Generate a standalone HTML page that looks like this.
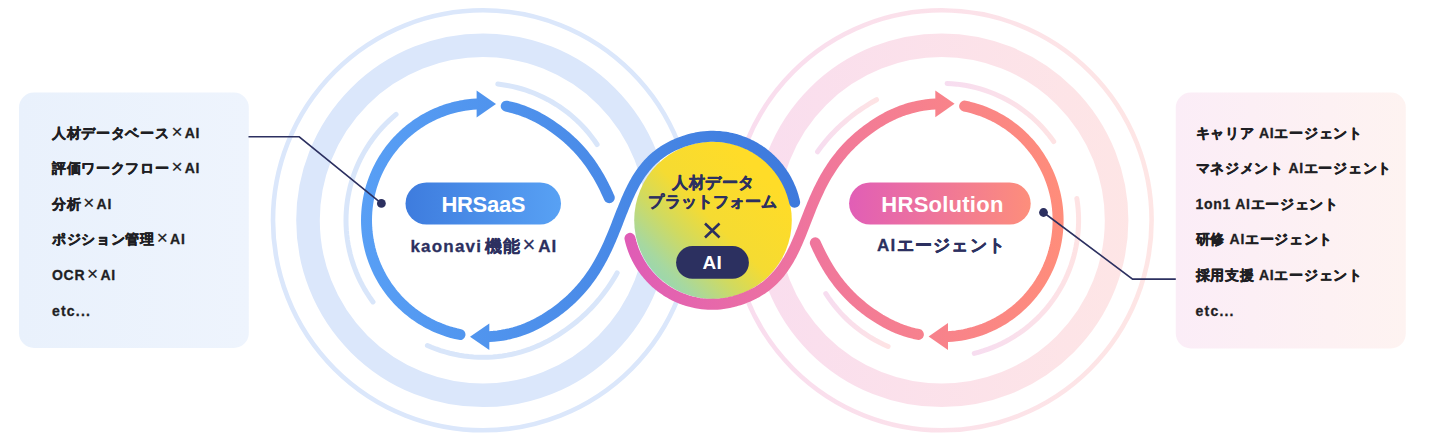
<!DOCTYPE html>
<html><head><meta charset="utf-8"><style>
html,body{margin:0;padding:0;background:#fff;}
body{width:1436px;height:446px;overflow:hidden;}
svg{display:block;font-family:"Liberation Sans",sans-serif;}
</style></head><body>
<svg width="1436" height="446" viewBox="0 0 1436 446">
<defs>
<linearGradient id="gBlue" gradientUnits="userSpaceOnUse" x1="360" y1="0" x2="800" y2="0">
 <stop offset="0" stop-color="#589ff5"/><stop offset="1" stop-color="#3d79dc"/></linearGradient>
<linearGradient id="gPink" gradientUnits="userSpaceOnUse" x1="625" y1="0" x2="1065" y2="0">
 <stop offset="0" stop-color="#df5cb6"/><stop offset="0.5" stop-color="#f27a98"/><stop offset="1" stop-color="#ff8d7a"/></linearGradient>
<linearGradient id="gPillB" x1="0" y1="0" x2="1" y2="0">
 <stop offset="0" stop-color="#3e7cde"/><stop offset="1" stop-color="#58a1f4"/></linearGradient>
<linearGradient id="gPillP" x1="0" y1="0" x2="1" y2="0">
 <stop offset="0" stop-color="#e15eb6"/><stop offset="1" stop-color="#fd8e7b"/></linearGradient>
<linearGradient id="gRingP" gradientUnits="userSpaceOnUse" x1="730" y1="0" x2="1155" y2="0">
 <stop offset="0" stop-color="#f9ddef"/><stop offset="1" stop-color="#fee6e5"/></linearGradient>
<linearGradient id="gLightP" x1="0" y1="0" x2="1" y2="0">
 <stop offset="0" stop-color="#f7ddf0"/><stop offset="1" stop-color="#fee3e4"/></linearGradient>
<linearGradient id="gYel" x1="0.05" y1="0.95" x2="0.8" y2="0.2">
 <stop offset="0" stop-color="#8cd3c4"/><stop offset="0.2" stop-color="#a6d8a0"/><stop offset="0.4" stop-color="#d0da60"/><stop offset="0.6" stop-color="#f5db32"/><stop offset="1" stop-color="#ffdc28"/></linearGradient>
<linearGradient id="gBoxL" x1="0" y1="0" x2="1" y2="0">
 <stop offset="0" stop-color="#e9f1fc"/><stop offset="1" stop-color="#eef4fd"/></linearGradient>
<linearGradient id="gBoxR" x1="0" y1="0" x2="1" y2="0">
 <stop offset="0" stop-color="#fbedf7"/><stop offset="1" stop-color="#fef3f1"/></linearGradient>
</defs>
<rect x="19" y="92.6" width="229.8" height="255.4" rx="15" fill="url(#gBoxL)"/>
<rect x="1175.8" y="92.6" width="230" height="255.9" rx="15" fill="url(#gBoxR)"/>
<circle cx="483.00" cy="220.30" r="210" fill="none" stroke="#dbe7fb" stroke-width="4.6"/>
<circle cx="483.00" cy="220.30" r="175" fill="none" stroke="#dbe7fb" stroke-width="23.6"/>
<circle cx="941.60" cy="220.30" r="210" fill="none" stroke="url(#gRingP)" stroke-width="4.6"/>
<circle cx="941.60" cy="220.30" r="175" fill="none" stroke="url(#gRingP)" stroke-width="23.6"/>
<path d="M497.80 84.10 L502.56 84.70 L507.30 85.47 L512.01 86.41 L516.68 87.50 L521.31 88.77 L525.90 90.19 L530.43 91.77 L534.91 93.51 L539.32 95.41 L543.66 97.46 L547.92 99.66 L552.11 102.01 L556.21 104.50 L560.23 107.14 L564.14 109.92 L567.96 112.83 L571.68 115.87 L575.28 119.04 L578.77 122.34 L582.15 125.75 L585.40 129.28 L588.52 132.93 L591.52 136.68 L594.38 140.53 L597.11 144.49" fill="none" stroke="#d9e6fa" stroke-width="5" stroke-linecap="round"/>
<path d="M373.01 301.98 L370.19 298.04 L367.51 294.00 L364.98 289.87 L362.59 285.65 L360.35 281.34 L358.27 276.97 L356.34 272.52 L354.57 268.00 L352.97 263.43 L351.52 258.80 L350.24 254.12 L349.13 249.40 L348.18 244.65 L347.40 239.86 L346.80 235.05 L346.36 230.22 L346.09 225.38 L346.00 220.53 L346.08 215.69 L346.33 210.84 L346.75 206.01 L347.34 201.20 L348.10 196.41 L349.03 191.65 L350.13 186.93 L351.39 182.25 L352.82 177.62 L354.41 173.04 L356.16 168.52 L358.08 164.06 L360.14 159.67 L362.37 155.36 L364.74 151.14 L367.26 147.00 L369.93 142.95 L372.74 138.99 L375.68 135.14 L378.76 131.40 L381.97 127.76 L385.31 124.25 L388.77 120.85 L392.35 117.58 L396.04 114.44" fill="none" stroke="#d9e6fa" stroke-width="5" stroke-linecap="round"/>
<path d="M427.39 345.50 L431.50 347.25 L436.00 348.98 L440.56 350.56 L445.17 351.97 L449.83 353.22 L454.53 354.31 L459.26 355.23 L464.03 355.98 L468.81 356.56 L473.62 356.98 L478.44 357.22 L483.26 357.30 L488.08 357.21 L492.90 356.94 L497.70 356.51 L502.49 355.91 L507.25 355.14 L511.98 354.20 L516.68 353.10 L521.33 351.83 L525.94 350.40 L530.49 348.80 L534.99 347.05 L539.42 345.14 L543.78 343.08 L548.06 340.87 L552.14 338.58 L554.96 336.89 L557.60 335.26 L560.19 333.61 L562.72 331.93 L565.20 330.23 L567.62 328.52 L569.99 326.78 L572.30 325.02 L574.57 323.25 L576.78 321.45 L578.94 319.64 L581.05 317.81 L583.11 315.96 L585.12 314.10 L587.08 312.23 L588.99 310.34 L590.86 308.43 L592.68 306.52 L594.45 304.59 L596.18 302.65 L597.86 300.71 L599.50 298.75 L601.10 296.78 L602.65 294.81 L604.17 292.83 L605.64 290.84 L607.07 288.85 L608.46 286.86 L609.82 284.86 L611.13 282.86 L612.42 280.86 L613.66 278.86 L614.88 276.86 L616.06 274.86 L617.20 272.86" fill="none" stroke="#d9e6fa" stroke-width="5" stroke-linecap="round"/>
<path d="M947.10 83.41 L951.93 83.69 L956.74 84.14 L961.54 84.76 L966.31 85.55 L971.05 86.50 L975.76 87.63 L980.42 88.92 L985.04 90.37 L989.60 91.98 L994.10 93.76 L998.53 95.69 L1002.89 97.78 L1007.18 100.02 L1011.39 102.41 L1015.50 104.94 L1019.53 107.62 L1023.46 110.45 L1027.29 113.40 L1031.01 116.50 L1034.62 119.72 L1038.11 123.06 L1041.48 126.53 L1044.73 130.11 L1047.85 133.81 L1050.84 137.62 L1053.69 141.52" fill="none" stroke="url(#gLightP)" stroke-width="5" stroke-linecap="round"/>
<path d="M1076.84 198.40 L1077.53 203.21 L1078.05 208.04 L1078.40 212.89 L1078.58 217.75 L1078.58 222.61 L1078.41 227.47 L1078.07 232.32 L1077.56 237.15 L1076.88 241.97 L1076.02 246.75 L1075.00 251.51 L1073.81 256.22 L1072.45 260.89 L1070.93 265.51 L1069.24 270.07 L1067.40 274.56 L1065.39 278.99 L1063.23 283.35 L1060.92 287.62 L1058.45 291.81 L1055.84 295.92 L1053.09 299.92 L1050.19 303.83 L1047.16 307.63 L1044.00 311.32 L1040.70 314.89 L1037.28 318.35 L1033.74 321.68 L1030.09 324.89 L1026.32 327.96 L1022.45 330.90 L1018.47 333.70 L1014.40 336.36 L1010.24 338.87 L1005.99 341.23 L1001.66 343.43 L997.25 345.49 L992.77 347.38 L988.23 349.12 L983.63 350.69 L978.98 352.10 L974.28 353.35" fill="none" stroke="url(#gLightP)" stroke-width="5" stroke-linecap="round"/>
<path d="M888.07 346.41 L883.61 344.42 L879.23 342.28 L874.92 339.98 L870.70 337.53 L866.57 334.93 L862.54 332.18 L858.60 329.30 L854.77 326.27 L851.05 323.11 L847.45 319.82 L843.96 316.40 L840.60 312.87 L837.37 309.21 L834.27 305.44 L831.30 301.56 L828.48 297.58 L825.80 293.51" fill="none" stroke="url(#gLightP)" stroke-width="5" stroke-linecap="round"/>
<path d="M876.54 99.73 L872.46 102.02 L869.64 103.71 L867.00 105.34 L864.41 106.99 L861.88 108.67 L859.40 110.37 L856.98 112.08 L854.61 113.82 L852.30 115.58 L850.03 117.35 L847.82 119.15 L845.66 120.96 L843.55 122.79 L841.49 124.64 L839.48 126.50 L837.52 128.37 L835.61 130.26 L833.74 132.17 L831.92 134.08 L830.15 136.01 L828.42 137.95 L826.74 139.89 L825.10 141.85 L823.50 143.82 L821.95 145.79 L820.43 147.77 L818.96 149.76 L817.53 151.75" fill="none" stroke="url(#gLightP)" stroke-width="5" stroke-linecap="round"/>
<circle cx="713" cy="220.30" r="78.8" fill="url(#gYel)"/>
<path d="M489.29 336.63 L493.55 336.32 L497.79 335.86 L502.01 335.24 L506.20 334.47 L510.37 333.54 L514.49 332.46 L518.58 331.23 L522.62 329.86 L526.60 328.33 L530.53 326.66 L534.39 324.85 L538.18 322.90 L541.90 320.81 L544.33 319.37 L546.69 317.90 L549.01 316.42 L551.27 314.93 L553.47 313.42 L555.63 311.89 L557.73 310.35 L559.78 308.79 L561.78 307.22 L563.73 305.64 L565.64 304.04 L567.49 302.43 L569.31 300.81 L571.07 299.17 L572.79 297.53 L574.47 295.87 L576.11 294.20 L577.70 292.52 L579.26 290.83 L580.77 289.13 L582.25 287.42 L583.69 285.70 L585.09 283.98 L586.46 282.24 L587.79 280.50 L589.08 278.75 L590.35 277.00 L591.58 275.24 L592.78 273.47 L593.94 271.69 L595.08 269.91 L596.20 268.13 L597.28 266.34 L598.34 264.55 L599.37 262.75 L600.37 260.95 L601.35 259.15 L602.31 257.35 L603.25 255.54 L604.17 253.73 L605.06 251.92 L605.94 250.11 L606.79 248.30 L607.63 246.49 L608.46 244.68 L609.26 242.87 L610.06 241.06 L610.83 239.25 L611.60 237.45 L612.35 235.65 L613.10 233.85 L613.83 232.05 L614.55 230.26 L615.27 228.47 L615.97 226.68 L616.67 224.90 L617.37 223.13 L618.06 221.36 L618.75 219.59 L619.43 217.84 L620.11 216.09 L620.79 214.35 L621.47 212.61 L622.16 210.88 L622.84 209.16 L623.52 207.45 L624.21 205.75 L624.91 204.06 L625.61 202.38 L626.31 200.71 L627.03 199.05 L627.75 197.40 L628.48 195.77 L629.22 194.14 L629.97 192.53 L630.73 190.93 L631.51 189.34 L632.30 187.77 L633.10 186.21 L633.92 184.67 L634.76 183.14 L635.62 181.63 L636.49 180.13 L637.38 178.65 L638.29 177.18 L639.22 175.73 L640.18 174.30 L641.15 172.89 L642.16 171.49 L643.18 170.11 L644.23 168.76 L645.31 167.42 L646.42 166.10 L647.55 164.80 L648.72 163.52 L649.91 162.26 L651.13 161.02 L652.39 159.81 L653.68 158.62 L655.00 157.45 L656.36 156.30 L657.76 155.18 L659.19 154.08 L660.66 153.00 L662.17 151.95 L663.71 150.92 L665.30 149.92 L666.93 148.94 L668.60 147.99 L670.31 147.07 L672.07 146.18 L673.87 145.31 L675.72 144.47 L677.62 143.65 L679.56 142.87 L681.55 142.11 L683.59 141.39 L685.69 140.69 L687.83 140.03 L690.02 139.39 L692.90 138.64 L695.80 138.00 L698.72 137.46 L701.66 137.02 L704.61 136.68 L707.57 136.45 L710.53 136.33 L713.50 136.30 L716.47 136.39 L719.44 136.58 L722.39 136.87 L725.34 137.27 L728.26 137.77 L731.17 138.38 L734.05 139.09 L736.91 139.90 L739.74 140.81 L742.53 141.81 L745.29 142.92 L748.00 144.13 L750.67 145.42 L753.30 146.82 L755.87 148.30 L758.39 149.88 L760.85 151.54 L763.25 153.29 L765.59 155.12 L767.86 157.03 L770.06 159.03 L772.19 161.10 L774.25 163.24 L776.22 165.45 L778.12 167.74 L779.94 170.09 L781.67 172.50 L783.32 174.97 L784.88 177.50 L786.35 180.08 L787.72 182.71 L789.00 185.39 L790.19 188.11 L791.28 190.88 L792.27 193.68 L793.16 196.51 L793.95 199.37 L794.64 202.26" fill="none" stroke="url(#gBlue)" stroke-width="11.0" stroke-linecap="round" stroke-linejoin="round"/>
<path d="M459.97 334.50 L455.97 333.62 L451.99 332.60 L448.06 331.44 L444.17 330.14 L440.32 328.70 L436.53 327.13 L432.80 325.43 L429.13 323.60 L425.53 321.64 L422.00 319.55 L418.54 317.34 L415.16 315.01 L411.87 312.56 L408.67 310.00 L405.55 307.33 L402.54 304.55 L399.62 301.66 L396.81 298.68 L394.10 295.60 L391.51 292.42 L389.02 289.15 L386.66 285.80 L384.41 282.37 L382.29 278.86 L380.29 275.28 L378.42 271.63 L376.67 267.91 L375.06 264.14 L373.59 260.31 L372.25 256.44 L371.04 252.51 L369.98 248.55 L369.05 244.56 L368.27 240.53 L367.63 236.48 L367.13 232.40 L366.78 228.32 L366.57 224.22 L366.50 220.12 L366.58 216.02 L366.80 211.92 L367.17 207.84 L367.68 203.76 L368.33 199.71 L369.13 195.69 L370.07 191.70 L371.14 187.74 L372.36 183.82 L373.71 179.95 L375.20 176.12 L376.82 172.36 L378.58 168.65 L380.46 165.00 L382.47 161.43 L384.61 157.92 L386.86 154.50 L389.24 151.16 L391.73 147.90 L394.34 144.73 L397.05 141.65 L399.87 138.68 L402.80 135.80 L405.82 133.03 L408.95 130.37 L412.16 127.81 L415.46 125.38 L418.84 123.06 L422.30 120.86 L425.84 118.78 L429.45 116.84 L433.13 115.01 L436.87 113.32 L440.66 111.77 L444.51 110.34 L448.40 109.06 L452.34 107.91 L456.32 106.90 L460.33 106.03 L464.37 105.30 L468.43 104.72 L472.50 104.27 L476.60 103.98" fill="none" stroke="url(#gBlue)" stroke-width="11.0" stroke-linecap="round" stroke-linejoin="round"/>
<path d="M506.23 106.14 L510.39 107.06 L514.51 108.14 L518.59 109.37 L522.63 110.75 L526.61 112.27 L530.53 113.94 L534.39 115.75 L538.18 117.70 L541.90 119.79 L544.33 121.23 L546.69 122.70 L549.01 124.18 L551.27 125.67 L553.47 127.18 L555.63 128.71 L557.73 130.25 L559.78 131.81 L561.78 133.38 L563.73 134.96 L565.64 136.56 L567.49 138.17 L569.31 139.79 L571.07 141.43 L572.79 143.07 L574.47 144.73 L576.11 146.40 L577.70 148.08 L579.26 149.77 L580.77 151.47 L582.25 153.18 L583.69 154.90 L585.09 156.62 L586.46 158.36 L587.79 160.10 L589.08 161.85 L590.35 163.60 L591.58 165.36 L592.78 167.13 L593.94 168.91 L595.08 170.69 L596.20 172.47 L597.28 174.26 L598.34 176.05 L599.37 177.85 L600.37 179.65 L601.35 181.45 L602.31 183.25 L603.25 185.06 L604.17 186.87 L605.06 188.68 L605.94 190.49 L606.79 192.30 L607.63 194.11 L608.46 195.92 L609.26 197.73" fill="none" stroke="url(#gBlue)" stroke-width="11.0" stroke-linecap="round" stroke-linejoin="round"/>
<path d="M476.60 90.60 L496.00 104.00 L476.60 117.50 Z" fill="url(#gBlue)"/>
<path d="M489.30 323.40 L470.00 336.75 L489.30 350.10 Z" fill="url(#gBlue)"/>
<path d="M935.31 103.97 L931.05 104.28 L926.81 104.74 L922.59 105.36 L918.40 106.13 L914.23 107.06 L910.11 108.14 L906.02 109.37 L901.98 110.74 L898.00 112.27 L894.07 113.94 L890.21 115.75 L886.42 117.70 L882.70 119.79 L880.27 121.23 L877.91 122.70 L875.59 124.18 L873.33 125.67 L871.13 127.18 L868.97 128.71 L866.87 130.25 L864.82 131.81 L862.82 133.38 L860.87 134.96 L858.96 136.56 L857.11 138.17 L855.29 139.79 L853.53 141.43 L851.81 143.07 L850.13 144.73 L848.49 146.40 L846.90 148.08 L845.34 149.77 L843.83 151.47 L842.35 153.18 L840.91 154.90 L839.51 156.62 L838.14 158.36 L836.81 160.10 L835.52 161.85 L834.25 163.60 L833.02 165.36 L831.82 167.13 L830.66 168.91 L829.52 170.69 L828.40 172.47 L827.32 174.26 L826.26 176.05 L825.23 177.85 L824.23 179.65 L823.25 181.45 L822.29 183.25 L821.35 185.06 L820.43 186.87 L819.54 188.68 L818.66 190.49 L817.81 192.30 L816.97 194.11 L816.14 195.92 L815.34 197.73 L814.54 199.54 L813.77 201.35 L813.00 203.15 L812.25 204.95 L811.50 206.75 L810.77 208.55 L810.05 210.34 L809.33 212.13 L808.63 213.92 L807.93 215.70 L807.23 217.47 L806.54 219.24 L805.85 221.01 L805.17 222.76 L804.49 224.51 L803.81 226.25 L803.13 227.99 L802.44 229.72 L801.76 231.44 L801.08 233.15 L800.39 234.85 L799.69 236.54 L798.99 238.22 L798.29 239.89 L797.57 241.55 L796.85 243.20 L796.12 244.83 L795.38 246.46 L794.63 248.07 L793.87 249.67 L793.09 251.26 L792.30 252.83 L791.50 254.39 L790.68 255.93 L789.84 257.46 L788.98 258.97 L788.11 260.47 L787.22 261.95 L786.31 263.42 L785.38 264.87 L784.42 266.30 L783.45 267.71 L782.44 269.11 L781.42 270.49 L780.37 271.84 L779.29 273.18 L778.18 274.50 L777.05 275.80 L775.88 277.08 L774.69 278.34 L773.47 279.58 L772.21 280.79 L770.92 281.98 L769.60 283.15 L768.24 284.30 L766.84 285.42 L765.41 286.52 L763.94 287.60 L762.43 288.65 L760.89 289.68 L759.30 290.68 L757.67 291.66 L756.00 292.61 L754.29 293.53 L752.53 294.42 L750.73 295.29 L748.88 296.13 L746.98 296.95 L745.04 297.73 L743.05 298.49 L741.01 299.21 L738.91 299.91 L736.77 300.57 L734.58 301.21 L731.70 301.96 L728.80 302.60 L725.88 303.14 L722.94 303.58 L719.99 303.92 L717.03 304.15 L714.07 304.27 L711.10 304.30 L708.13 304.21 L705.16 304.02 L702.21 303.73 L699.26 303.33 L696.34 302.83 L693.43 302.22 L690.55 301.51 L687.69 300.70 L684.86 299.79 L682.07 298.79 L679.31 297.68 L676.60 296.47 L673.93 295.18 L671.30 293.78 L668.73 292.30 L666.21 290.72 L663.75 289.06 L661.35 287.31 L659.01 285.48 L656.74 283.57 L654.54 281.57 L652.41 279.50 L650.35 277.36 L648.38 275.15 L646.48 272.86 L644.66 270.51 L642.93 268.10 L641.28 265.63 L639.72 263.10 L638.25 260.52 L636.88 257.89 L635.60 255.21 L634.41 252.49 L633.32 249.72 L632.33 246.92 L631.44 244.09 L630.65 241.23 L629.96 238.34" fill="none" stroke="url(#gPink)" stroke-width="11.0" stroke-linecap="round" stroke-linejoin="round"/>
<path d="M964.63 106.10 L968.63 106.98 L972.61 108.00 L976.54 109.16 L980.43 110.46 L984.28 111.90 L988.07 113.47 L991.80 115.17 L995.47 117.00 L999.07 118.96 L1002.60 121.05 L1006.06 123.26 L1009.44 125.59 L1012.73 128.04 L1015.93 130.60 L1019.05 133.27 L1022.06 136.05 L1024.98 138.94 L1027.79 141.92 L1030.50 145.00 L1033.09 148.18 L1035.58 151.45 L1037.94 154.80 L1040.19 158.23 L1042.31 161.74 L1044.31 165.32 L1046.18 168.97 L1047.93 172.69 L1049.54 176.46 L1051.01 180.29 L1052.35 184.16 L1053.56 188.09 L1054.62 192.05 L1055.55 196.04 L1056.33 200.07 L1056.97 204.12 L1057.47 208.20 L1057.82 212.28 L1058.03 216.38 L1058.10 220.48 L1058.02 224.58 L1057.80 228.68 L1057.43 232.76 L1056.92 236.84 L1056.27 240.89 L1055.47 244.91 L1054.53 248.90 L1053.46 252.86 L1052.24 256.78 L1050.89 260.65 L1049.40 264.48 L1047.78 268.24 L1046.02 271.95 L1044.14 275.60 L1042.13 279.17 L1039.99 282.68 L1037.74 286.10 L1035.36 289.44 L1032.87 292.70 L1030.26 295.87 L1027.55 298.95 L1024.73 301.92 L1021.80 304.80 L1018.78 307.57 L1015.65 310.23 L1012.44 312.79 L1009.14 315.22 L1005.76 317.54 L1002.30 319.74 L998.76 321.82 L995.15 323.76 L991.47 325.59 L987.73 327.28 L983.94 328.83 L980.09 330.26 L976.20 331.54 L972.26 332.69 L968.28 333.70 L964.27 334.57 L960.23 335.30 L956.17 335.88 L952.10 336.33 L948.00 336.62" fill="none" stroke="url(#gPink)" stroke-width="11.0" stroke-linecap="round" stroke-linejoin="round"/>
<path d="M918.37 334.46 L914.21 333.54 L910.09 332.46 L906.01 331.23 L901.97 329.85 L897.99 328.33 L894.07 326.66 L890.21 324.85 L886.42 322.90 L882.70 320.81 L880.27 319.37 L877.91 317.90 L875.59 316.42 L873.33 314.93 L871.13 313.42 L868.97 311.89 L866.87 310.35 L864.82 308.79 L862.82 307.22 L860.87 305.64 L858.96 304.04 L857.11 302.43 L855.29 300.81 L853.53 299.17 L851.81 297.53 L850.13 295.87 L848.49 294.20 L846.90 292.52 L845.34 290.83 L843.83 289.13 L842.35 287.42 L840.91 285.70 L839.51 283.98 L838.14 282.24 L836.81 280.50 L835.52 278.75 L834.25 277.00 L833.02 275.24 L831.82 273.47 L830.66 271.69 L829.52 269.91 L828.40 268.13 L827.32 266.34 L826.26 264.55 L825.23 262.75 L824.23 260.95 L823.25 259.15 L822.29 257.35 L821.35 255.54 L820.43 253.73 L819.54 251.92 L818.66 250.11 L817.81 248.30 L816.97 246.49 L816.14 244.68 L815.34 242.87" fill="none" stroke="url(#gPink)" stroke-width="11.0" stroke-linecap="round" stroke-linejoin="round"/>
<path d="M935.30 117.20 L954.60 103.85 L935.30 90.50 Z" fill="url(#gPink)"/>
<path d="M948.00 350.00 L928.60 336.60 L948.00 323.10 Z" fill="url(#gPink)"/>
<path d="M248.5 136.8 L299.2 136.8 L381.4 203.4" fill="none" stroke="#2c3060" stroke-width="1.6"/>
<circle cx="381.4" cy="203.4" r="4.4" fill="#2c3060"/>
<path d="M1043.5 212.5 L1132.6 279.1 L1175.8 279.1" fill="none" stroke="#2c3060" stroke-width="1.6"/>
<circle cx="1043.5" cy="212.5" r="4.4" fill="#2c3060"/>
<rect x="405.5" y="182.5" width="155.5" height="42" rx="21" fill="url(#gPillB)"/>
<rect x="849.1" y="182.5" width="181.6" height="42" rx="21" fill="url(#gPillP)"/>
<rect x="676.1" y="246.1" width="72.8" height="32.7" rx="16.35" fill="#2c3060"/>
<text x="52.00" y="137.60" font-size="14.00" fill="#1f1f24" text-anchor="start" letter-spacing="0.70" font-weight="bold" stroke="#1f1f24" stroke-width="0.30" stroke-linejoin="round"><tspan stroke="#1f1f24" stroke-width="0.50" stroke-linejoin="round">人材データベース</tspan><tspan dx="1.80" font-size="19.00" font-weight="normal" stroke="#1f1f24" stroke-width="0.20">×</tspan><tspan dx="1.60">AI</tspan></text>
<text x="52.00" y="173.20" font-size="14.00" fill="#1f1f24" text-anchor="start" letter-spacing="0.70" font-weight="bold" stroke="#1f1f24" stroke-width="0.30" stroke-linejoin="round"><tspan stroke="#1f1f24" stroke-width="0.50" stroke-linejoin="round">評価ワークフロー</tspan><tspan dx="1.80" font-size="19.00" font-weight="normal" stroke="#1f1f24" stroke-width="0.20">×</tspan><tspan dx="1.60">AI</tspan></text>
<text x="52.00" y="208.80" font-size="14.00" fill="#1f1f24" text-anchor="start" letter-spacing="0.70" font-weight="bold" stroke="#1f1f24" stroke-width="0.30" stroke-linejoin="round"><tspan stroke="#1f1f24" stroke-width="0.50" stroke-linejoin="round">分析</tspan><tspan dx="1.80" font-size="19.00" font-weight="normal" stroke="#1f1f24" stroke-width="0.20">×</tspan><tspan dx="1.60">AI</tspan></text>
<text x="52.00" y="244.40" font-size="14.00" fill="#1f1f24" text-anchor="start" letter-spacing="0.70" font-weight="bold" stroke="#1f1f24" stroke-width="0.30" stroke-linejoin="round"><tspan stroke="#1f1f24" stroke-width="0.50" stroke-linejoin="round">ポジション管理</tspan><tspan dx="1.80" font-size="19.00" font-weight="normal" stroke="#1f1f24" stroke-width="0.20">×</tspan><tspan dx="1.60">AI</tspan></text>
<text x="52.00" y="280.00" font-size="14.00" fill="#1f1f24" text-anchor="start" letter-spacing="0.70" font-weight="bold" stroke="#1f1f24" stroke-width="0.30" stroke-linejoin="round">OCR<tspan dx="1.80" font-size="19.00" font-weight="normal" stroke="#1f1f24" stroke-width="0.20">×</tspan><tspan dx="1.60">AI</tspan></text>
<text x="52.00" y="315.60" font-size="14.00" fill="#1f1f24" text-anchor="start" letter-spacing="1.20" font-weight="bold" stroke="#1f1f24" stroke-width="0.30" stroke-linejoin="round">etc...</text>
<text x="1195.60" y="137.60" font-size="14.00" fill="#1f1f24" text-anchor="start" letter-spacing="0.70" font-weight="bold" stroke="#1f1f24" stroke-width="0.30" stroke-linejoin="round"><tspan stroke="#1f1f24" stroke-width="0.50" stroke-linejoin="round">キャリア</tspan> AI<tspan stroke="#1f1f24" stroke-width="0.50" stroke-linejoin="round">エージェント</tspan></text>
<text x="1195.60" y="173.20" font-size="14.00" fill="#1f1f24" text-anchor="start" letter-spacing="0.70" font-weight="bold" stroke="#1f1f24" stroke-width="0.30" stroke-linejoin="round"><tspan stroke="#1f1f24" stroke-width="0.50" stroke-linejoin="round">マネジメント</tspan> AI<tspan stroke="#1f1f24" stroke-width="0.50" stroke-linejoin="round">エージェント</tspan></text>
<text x="1195.60" y="208.80" font-size="14.00" fill="#1f1f24" text-anchor="start" letter-spacing="0.70" font-weight="bold" stroke="#1f1f24" stroke-width="0.30" stroke-linejoin="round">1on1 AI<tspan stroke="#1f1f24" stroke-width="0.50" stroke-linejoin="round">エージェント</tspan></text>
<text x="1195.60" y="244.40" font-size="14.00" fill="#1f1f24" text-anchor="start" letter-spacing="0.70" font-weight="bold" stroke="#1f1f24" stroke-width="0.30" stroke-linejoin="round"><tspan stroke="#1f1f24" stroke-width="0.50" stroke-linejoin="round">研修</tspan> AI<tspan stroke="#1f1f24" stroke-width="0.50" stroke-linejoin="round">エージェント</tspan></text>
<text x="1195.60" y="280.00" font-size="14.00" fill="#1f1f24" text-anchor="start" letter-spacing="0.70" font-weight="bold" stroke="#1f1f24" stroke-width="0.30" stroke-linejoin="round"><tspan stroke="#1f1f24" stroke-width="0.50" stroke-linejoin="round">採用支援</tspan> AI<tspan stroke="#1f1f24" stroke-width="0.50" stroke-linejoin="round">エージェント</tspan></text>
<text x="1195.60" y="315.60" font-size="14.00" fill="#1f1f24" text-anchor="start" letter-spacing="1.20" font-weight="bold" stroke="#1f1f24" stroke-width="0.30" stroke-linejoin="round">etc...</text>
<text x="483.30" y="211.80" font-size="22.00" fill="#ffffff" text-anchor="middle" letter-spacing="-0.30" font-weight="bold">HRSaaS</text>
<text x="942.50" y="211.80" font-size="22.00" fill="#ffffff" text-anchor="middle" letter-spacing="0.25" font-weight="bold">HRSolution</text>
<text x="484.00" y="251.60" font-size="17.00" fill="#2c3060" text-anchor="middle" letter-spacing="1.20" font-weight="bold" stroke="#2c3060" stroke-width="0.30" stroke-linejoin="round">kaonavi<tspan dx="2.50" stroke="#2c3060" stroke-width="0.30" stroke-linejoin="round">機能</tspan><tspan dx="1.50" font-size="22.00" font-weight="normal" stroke="#2c3060" stroke-width="0.20">×</tspan><tspan dx="1.50">AI</tspan></text>
<text x="941.60" y="250.80" font-size="17.00" fill="#2c3060" text-anchor="middle" letter-spacing="1.25" font-weight="bold" stroke="#2c3060" stroke-width="0.30" stroke-linejoin="round">AI<tspan stroke="#2c3060" stroke-width="0.40" stroke-linejoin="round">エージェント</tspan></text>
<text x="713.60" y="188.00" font-size="16.00" fill="#2c3060" text-anchor="middle" letter-spacing="0.45" font-weight="bold"><tspan stroke="#2c3060" stroke-width="0.50" stroke-linejoin="round">人材データ</tspan></text>
<text x="713.00" y="207.00" font-size="16.00" fill="#2c3060" text-anchor="middle" letter-spacing="0.15" font-weight="bold"><tspan stroke="#2c3060" stroke-width="0.50" stroke-linejoin="round">プラットフォーム</tspan></text>
<path d="M705 223.5 L719.5 237.5 M719.5 223.5 L705 237.5" stroke="#2c3060" stroke-width="2.6" fill="none"/>
<text x="712.40" y="268.90" font-size="19.00" fill="#ffffff" text-anchor="middle" letter-spacing="0.30" font-weight="bold">AI</text>
</svg>
</body></html>
